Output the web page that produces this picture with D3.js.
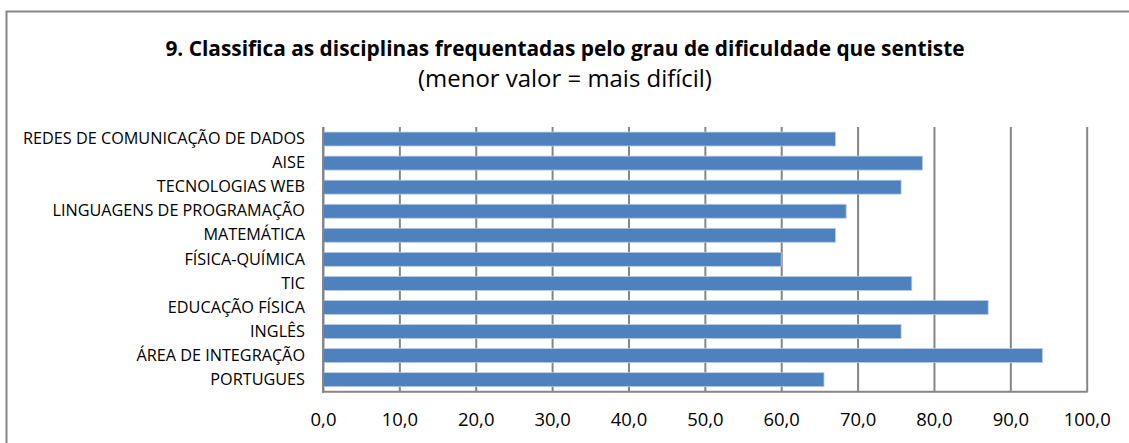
<!DOCTYPE html>
<html>
<head>
<meta charset="utf-8">
<script src="https://cdn.jsdelivr.net/npm/d3@7"></script>
<style>
  body { margin: 0; background: #fff; }
  svg { display: block; }
  text { font-family: "Open Sans", "Noto Sans", sans-serif; fill: #000; }
</style>
</head>
<body>
<svg id="chart" width="1129" height="443"></svg>
<script>
const categories = [
  "REDES DE COMUNICAÇÃO DE DADOS",
  "AISE",
  "TECNOLOGIAS WEB",
  "LINGUAGENS DE PROGRAMAÇÃO",
  "MATEMÁTICA",
  "FÍSICA-QUÍMICA",
  "TIC",
  "EDUCAÇÃO FÍSICA",
  "INGLÊS",
  "ÁREA DE INTEGRAÇÃO",
  "PORTUGUES"
];
const values = [67.1, 78.5, 75.7, 68.5, 67.1, 60.0, 77.1, 87.1, 75.7, 94.2, 65.6];
const tickValues = [0, 10, 20, 30, 40, 50, 60, 70, 80, 90, 100];
const titleText = "9. Classifica as disciplinas frequentadas pelo grau de dificuldade que sentiste";
const subtitleText = "(menor valor = mais difícil)";

const svg = d3.select("#chart");
const W = 1129, H = 443;
const plot = { left: 323, right: 1086.7, top: 127, bottom: 391.7 };

// outer chart border
svg.append("rect")
  .attr("x", 6.5).attr("y", 11.5)
  .attr("width", W + 20).attr("height", H + 20)
  .attr("fill", "none").attr("stroke", "#868686").attr("stroke-width", 2);

const x = d3.scaleLinear().domain([0, 100]).range([plot.left, plot.right]);
const y = d3.scaleBand().domain(categories).range([plot.top, plot.bottom]).paddingInner(0.42).paddingOuter(0.21);

function fitTo(sel, base, target) {
  sel.style("font-size", base + "px");
  const w = sel.node().getComputedTextLength();
  const fs = base * target / w;
  return fs;
}

// title
const t = svg.append("text").attr("x", 565).attr("y", 56)
  .attr("text-anchor", "middle").attr("font-weight", "bold")
  .text(titleText);
t.style("font-size", fitTo(t, 20, 800) + "px");
const st = svg.append("text").attr("x", 565).attr("y", 87)
  .attr("text-anchor", "middle")
  .text(subtitleText);
st.style("font-size", fitTo(st, 19, 294) + "px");

// gridlines
const xAxisGrid = d3.axisBottom(x).tickValues(tickValues).tickSize(-(plot.bottom - plot.top)).tickFormat("");
svg.append("g").attr("transform", `translate(0,${plot.bottom})`).call(xAxisGrid)
  .call(g => g.select(".domain").remove())
  .call(g => g.selectAll("line").attr("stroke", "#868686").attr("stroke-width", 2));

// bars
svg.append("g").selectAll("rect").data(values).join("rect")
  .attr("x", x(0))
  .attr("y", (d, i) => y(categories[i]))
  .attr("width", d => x(d) - x(0))
  .attr("height", y.bandwidth())
  .attr("fill", "#4F81BD")
  .attr("stroke", "#B9CDE5").attr("stroke-width", 0.8);

// axes lines
svg.append("line").attr("x1", plot.left).attr("x2", plot.left).attr("y1", plot.top).attr("y2", plot.bottom + 1)
  .attr("stroke", "#868686").attr("stroke-width", 2);
svg.append("line").attr("x1", plot.left - 1).attr("x2", plot.right + 1).attr("y1", plot.bottom).attr("y2", plot.bottom)
  .attr("stroke", "#868686").attr("stroke-width", 2);

// x tick labels
const xAxis = d3.axisBottom(x).tickValues(tickValues).tickSize(0).tickPadding(0)
  .tickFormat(d => d3.format(".1f")(d).replace(".", ","));
const gx = svg.append("g").attr("transform", `translate(0,${plot.bottom})`).call(xAxis);
gx.select(".domain").remove();
gx.attr("font-family", null).attr("font-size", null);
const lastTick = gx.selectAll("text").filter(d => d === 100);
const fsx = fitTo(lastTick, 15, 47);
gx.selectAll("text").attr("dy", null).attr("y", 34)
  .style("font-size", fsx + "px").style("font-family", "'Open Sans', 'Noto Sans', sans-serif").attr("fill", "#000");

// y labels
const yAxis = d3.axisLeft(y).tickSize(0).tickPadding(18);
const gy = svg.append("g").attr("transform", `translate(${plot.left},0)`).call(yAxis);
gy.select(".domain").remove();
gy.attr("font-family", null).attr("font-size", null);
const longest = gy.selectAll("text").filter(d => d === categories[0]);
const fsy = fitTo(longest, 14, 282);
gy.selectAll("text").style("font-size", fsy + "px")
  .style("font-family", "'Open Sans', 'Noto Sans', sans-serif").attr("fill", "#000");
</script>
</body>
</html>
